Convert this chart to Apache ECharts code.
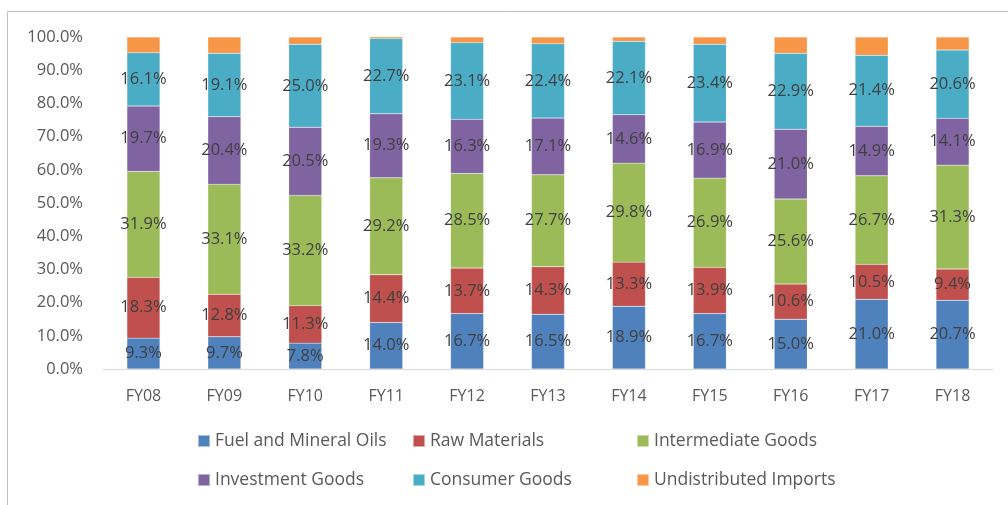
<!DOCTYPE html>
<html><head><meta charset="utf-8">
<script src="https://cdn.jsdelivr.net/npm/echarts@6/dist/echarts.min.js"></script>
<style>html,body{margin:0;padding:0;background:#fff}#c{width:1008px;height:505px}</style>
</head><body><div id="c"></div>
<script>
const categories = ['FY08','FY09','FY10','FY11','FY12','FY13','FY14','FY15','FY16','FY17','FY18'];
const fuel = [9.3, 9.7, 7.8, 14.0, 16.7, 16.5, 18.9, 16.7, 15.0, 21.0, 20.7];
const raw = [18.3, 12.8, 11.3, 14.4, 13.7, 14.3, 13.3, 13.9, 10.6, 10.5, 9.4];
const intermediate = [31.9, 33.1, 33.2, 29.2, 28.5, 27.7, 29.8, 26.9, 25.6, 26.7, 31.3];
const investment = [19.7, 20.4, 20.5, 19.3, 16.3, 17.1, 14.6, 16.9, 21.0, 14.9, 14.1];
const consumer = [16.1, 19.1, 25.0, 22.7, 23.1, 22.4, 22.1, 23.4, 22.9, 21.4, 20.6];
const undistributed = [4.7, 4.9, 2.2, 0.6, 1.7, 2.0, 1.3, 2.2, 4.9, 5.5, 3.9];
const seriesNames = ['Fuel and Mineral Oils','Raw Materials','Intermediate Goods','Investment Goods','Consumer Goods','Undistributed Imports'];
const colors = ['#4f81bd','#c0504d','#9bbb59','#8064a2','#4bacc6','#f79646'];
const seriesData = [fuel, raw, intermediate, investment, consumer, undistributed];
const FONT = '"Open Sans", "Noto Sans", sans-serif';

const chart = echarts.init(document.getElementById('c'));
const series = seriesData.map((d, i) => ({
  name: seriesNames[i],
  type: 'bar',
  stack: 'total',
  barWidth: 33,
  data: d,
  itemStyle: { color: colors[i], borderColor: 'rgba(255,255,255,0.5)', borderWidth: 0.4 },
  label: {
    show: i < 5,
    position: 'inside',
    color: '#404040',
    fontFamily: FONT,
    fontSize: 16.5,
    formatter: p => p.value.toFixed(1) + '%'
  }
}));

const legendPos = [[192,427],[407,427],[631,427],[192,466],[407,466],[631,466]];
const legends = seriesNames.map((n, i) => ({
  data: [n],
  left: legendPos[i][0],
  top: legendPos[i][1],
  itemWidth: 12,
  itemHeight: 12,
  itemGap: 4,
  icon: 'rect',
  textStyle: { color: '#595959', fontFamily: FONT, fontSize: 17.5 }
}));

chart.setOption({
  animation: false,
  color: colors,
  graphic: [{
    type: 'rect',
    shape: { x: 7.5, y: 11.5, width: 1010, height: 510 },
    style: { fill: 'none', stroke: '#c0c0c0', lineWidth: 1 },
    silent: true
  }],
  legend: legends,
  grid: { left: 103, right: 15, top: 37, bottom: 136 },
  xAxis: {
    type: 'category',
    data: categories,
    axisLine: { lineStyle: { color: '#d9d9d9', width: 1 } },
    axisTick: { show: false },
    axisLabel: { color: '#595959', fontFamily: FONT, fontSize: 16, margin: 19 }
  },
  yAxis: {
    type: 'value',
    min: 0, max: 100, interval: 10,
    splitLine: { show: false },
    axisLine: { show: false },
    axisTick: { show: false },
    axisLabel: { color: '#595959', fontFamily: FONT, fontSize: 16.5, margin: 20, formatter: v => v.toFixed(1) + '%' }
  },
  series: series
});
</script></body></html>
